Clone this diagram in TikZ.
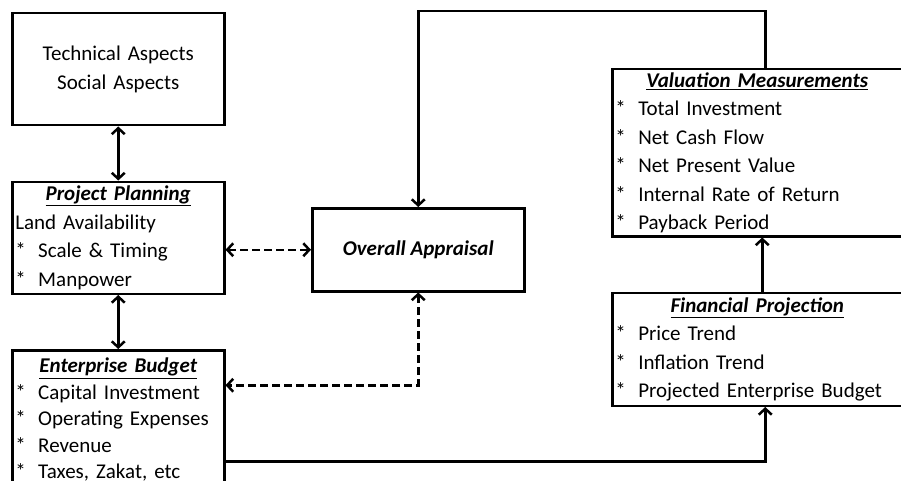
\documentclass[tikz,border=0pt]{standalone}
\usepackage{fontspec}
\setmainfont{Carlito}
\usetikzlibrary{arrows.meta, positioning}
\newcommand{\itm}[1]{\makebox[23pt][l]{*}#1}
\newcommand{\ttl}[1]{\makebox[\hsize]{\textbf{\textit{\underline{#1}}}}}

\begin{document}
\begin{tikzpicture}[
  x=1pt, y=-1pt,
  node distance=54pt,
  box/.style={draw, line width=2.5pt, rectangle, inner sep=0pt, inner xsep=3pt, align=left, font=\fontsize{21}{28.5}\selectfont},
  leftbox/.style={box, minimum width=212pt, text width=206pt},
  rightbox/.style={box, minimum width=290pt, text width=284pt},
  link/.style={line width=2.5pt},
  dlink/.style={line width=2.5pt, dash pattern=on 8pt off 4pt},
  >={Straight Barb[length=6pt, width=13pt]}
]
\useasboundingbox (0,0) rectangle (901,481);

\node[leftbox, minimum height=112pt, align=center, anchor=north west] (tech) at (11,12) {Technical Aspects\\Social Aspects};
\node[leftbox, minimum height=112pt, below=of tech] (plan) {\ttl{Project Planning}\\Land Availability\\\itm{Scale \& Timing}\\\itm{Manpower}};
\node[leftbox, minimum height=139pt, font=\fontsize{21}{26.5}\selectfont, below=of plan] (budget) {\ttl{Enterprise Budget}\\\itm{Capital Investment}\\\itm{Operating Expenses}\\\itm{Revenue}\\\itm{Taxes, Zakat, etc}};

\node[box, minimum width=212pt, minimum height=83pt, align=center, anchor=north west] (appraisal) at (311,207) {\textbf{\textit{Overall Appraisal}}};

\node[rightbox, minimum height=167pt, anchor=north west] (valuation) at (611,68) {\ttl{Valuation Measurements}\\\itm{Total Investment}\\\itm{Net Cash Flow}\\\itm{Net Present Value}\\\itm{Internal Rate of Return}\\\itm{Payback Period}};
\node[rightbox, minimum height=113pt, below=of valuation] (projection) {\ttl{Financial Projection}\\\itm{Price Trend}\\\itm{Inflation Trend}\\\itm{Projected Enterprise Budget}};

\coordinate (topbend) at (417,11);

\draw[<->, link] (tech) -- (plan);
\draw[<->, link] (plan) -- (budget);
\draw[<->, dlink] (appraisal.west -| plan.east) -- (appraisal.west);
\draw[<->, dlink] (appraisal.south) |- ([yshift=34.5pt]budget.east);
\draw[->, link] ([yshift=-41.5pt]budget.east) -| ([xshift=8pt]projection.south);
\draw[->, link] ([xshift=5pt]projection.north) -- ([xshift=5pt]valuation.south);
\draw[->, link] ([xshift=8pt]valuation.north) |- (topbend -| appraisal.north) -- (appraisal.north);
\end{tikzpicture}
\end{document}
